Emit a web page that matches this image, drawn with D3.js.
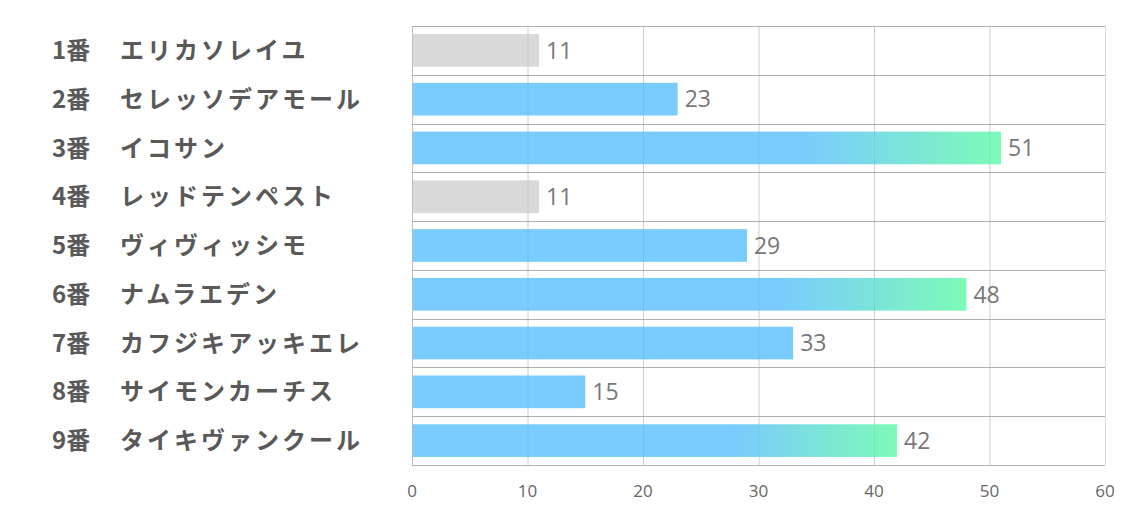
<!DOCTYPE html>
<html><head><meta charset="utf-8">
<script src="https://cdn.jsdelivr.net/npm/d3@7"></script>
<style>body{margin:0;background:#fff;} svg{display:block;}</style>
</head><body>
<svg id="c" width="1134" height="510"></svg>
<script>
const numbers = ["1番","2番","3番","4番","5番","6番","7番","8番","9番"];
const names = ["エリカソレイユ","セレッソデアモール","イコサン","レッドテンペスト","ヴィヴィッシモ","ナムラエデン","カフジキアッキエレ","サイモンカーチス","タイキヴァンクール"];
const values = [11,23,51,11,29,48,33,15,42];
const kinds = ["gray","blue","grad","gray","blue","grad","blue","blue","grad"];
const xTicks = [0,10,20,30,40,50,60];

const svg = d3.select("#c");
const x = d3.scaleLinear().domain([0,60]).range([412,1105]);
const y = d3.scaleBand().domain(d3.range(values.length)).range([26,465]).paddingInner(0.33).paddingOuter(0.165);
const rows = d3.scaleBand().domain(d3.range(values.length)).range([26,465]);

const defs = svg.append("defs");
const g = defs.append("linearGradient").attr("id","grad").attr("x1","0").attr("x2","1").attr("y1","0").attr("y2","0");
g.append("stop").attr("offset","0").attr("stop-color","#7ACBFE");
g.append("stop").attr("offset","0.66").attr("stop-color","#7ACBFE");
g.append("stop").attr("offset","1").attr("stop-color","#7DFAB8");

// vertical grid
svg.append("g").selectAll("line").data(xTicks).join("line")
  .attr("x1",d=>x(d)+0.5).attr("x2",d=>x(d)+0.5).attr("y1",26).attr("y2",465)
  .attr("stroke",d=>d===0?"#bdbdbd":"#dadada").attr("stroke-width",1);
// horizontal grid
const hl = d3.range(values.length+1).map(i=> i<values.length ? rows(i) : 465);
svg.append("g").selectAll("line").data(hl).join("line")
  .attr("x1",412).attr("x2",1105).attr("y1",d=>Math.round(d)+0.5).attr("y2",d=>Math.round(d)+0.5)
  .attr("stroke","#b0b0b0").attr("stroke-width",1);

const fills = {gray:"#D9D9D9", blue:"#7ACBFE", grad:"url(#grad)"};
svg.append("g").selectAll("rect").data(values).join("rect")
  .attr("x",x(0)+1).attr("y",(d,i)=>y(i)).attr("height",y.bandwidth())
  .attr("width",d=>x(d)-x(0)-1).attr("fill",(d,i)=>fills[kinds[i]]);
// faint gridlines visible through bars
svg.append("g").selectAll("line").data(xTicks.slice(1,-1)).join("line")
  .attr("x1",d=>x(d)+0.5).attr("x2",d=>x(d)+0.5).attr("y1",26).attr("y2",465)
  .attr("stroke","#000").attr("stroke-opacity",0.05);

svg.append("g").selectAll("text").data(values).join("text")
  .attr("x",d=>x(d)+7).attr("y",(d,i)=>y(i)+y.bandwidth()/2).attr("dy","0.36em")
  .attr("font-family","'Open Sans', 'Noto Sans', sans-serif").attr("font-size",23)
  .attr("fill","#777").text(d=>d);

const lab = svg.append("g").attr("font-family","'Noto Sans CJK JP', sans-serif").attr("font-weight","bold").attr("fill","#595959").attr("font-size",24);
lab.selectAll("text.n").data(numbers).join("text").attr("class","n")
  .attr("x",52).attr("y",(d,i)=>rows(i)+rows.bandwidth()/2).attr("dy","0.36em").text(d=>d);
lab.selectAll("text.m").data(names).join("text").attr("class","m")
  .attr("x",120).attr("y",(d,i)=>rows(i)+rows.bandwidth()/2).attr("dy","0.36em")
  .attr("letter-spacing",3).text(d=>d);

svg.append("g").selectAll("text").data(xTicks).join("text")
  .attr("x",d=>x(d)).attr("y",491).attr("dy","0.36em").attr("text-anchor","middle")
  .attr("font-family","'Open Sans', 'Noto Sans', sans-serif").attr("font-size",17)
  .attr("fill","#666").text(d=>d);
</script>
</body></html>
